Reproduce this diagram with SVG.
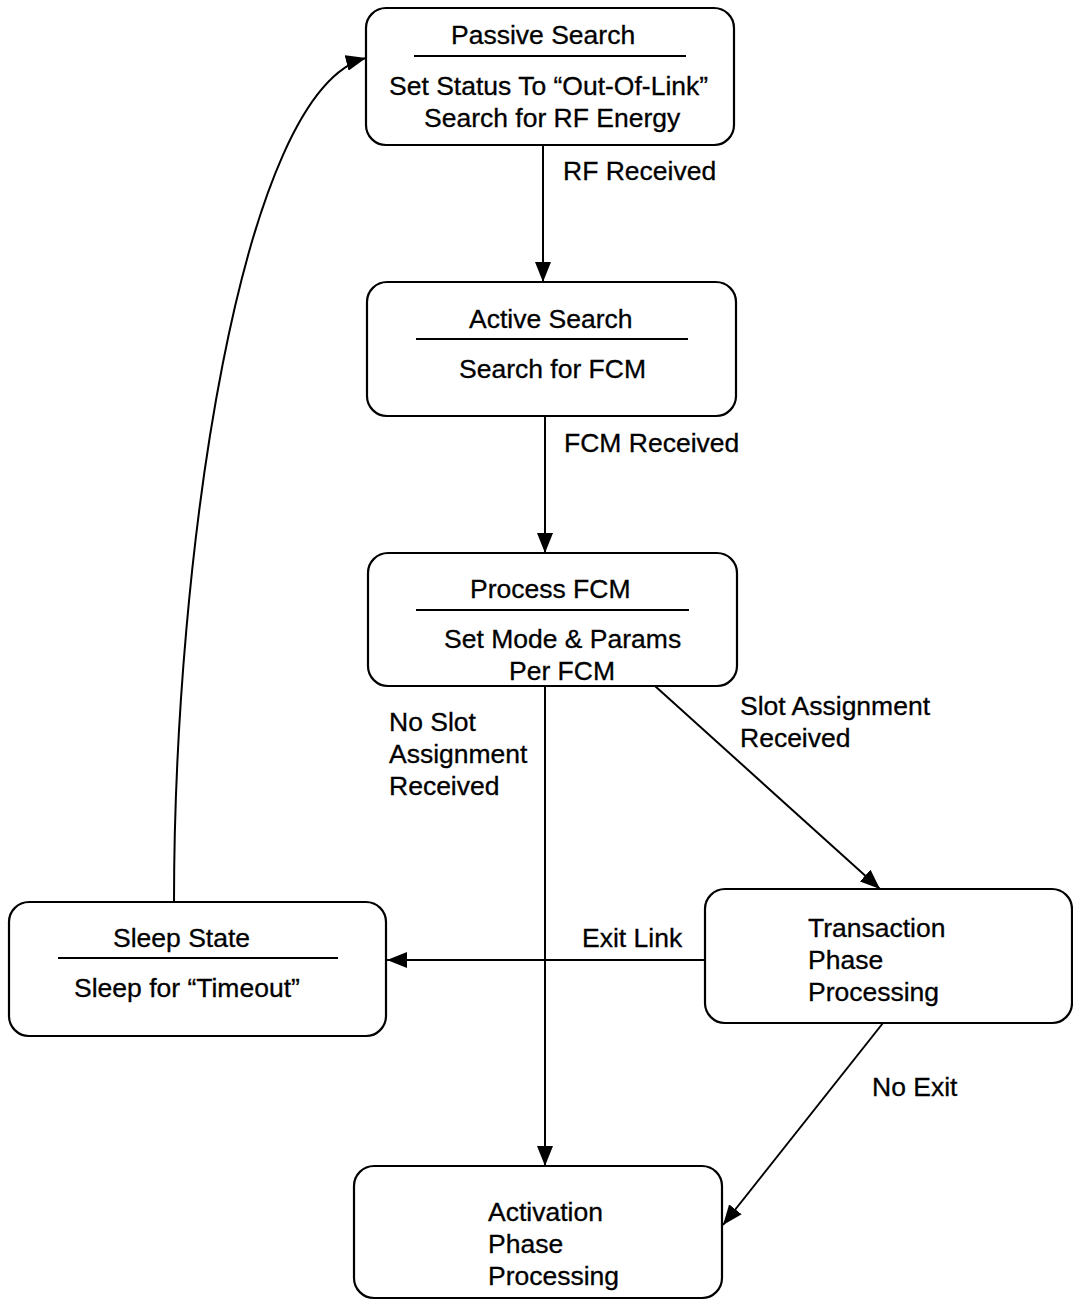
<svg xmlns="http://www.w3.org/2000/svg" width="1073" height="1300" viewBox="0 0 1073 1300">
<style>
text{font-family:"Liberation Sans",Arial,sans-serif;font-size:26.5px;fill:#000;stroke:#000;stroke-width:0.3}
.box{fill:#fff;stroke:#000;stroke-width:2.2}
.div{stroke:#000;stroke-width:2}
.edge{fill:none;stroke:#000;stroke-width:2}
</style>
<defs>
<marker id="ah" viewBox="0 0 20 16" refX="20" refY="8" markerWidth="20" markerHeight="16" markerUnits="userSpaceOnUse" orient="auto">
<path d="M0,0 L20,8 L0,16 Z" fill="#000"/>
</marker>
</defs>
<rect width="1073" height="1300" fill="#fff"/>
<g id="connectors">
<path class="edge" d="M543,145 L543,282" marker-end="url(#ah)"/>
<path class="edge" d="M545,416 L545,553" marker-end="url(#ah)"/>
<path class="edge" d="M545,686 L545,1166" marker-end="url(#ah)"/>
<path class="edge" d="M655,686 L880,889" marker-end="url(#ah)"/>
<path class="edge" d="M705,960 L387,960" marker-end="url(#ah)"/>
<path class="edge" d="M883,1023 L723,1225" marker-end="url(#ah)"/>
<path class="edge" d="M174,902 C174,560 240,90 366,58" marker-end="url(#ah)"/>
<text x="563" y="180">RF Received</text>
<text x="564" y="452">FCM Received</text>
<text x="389" y="731">No Slot</text>
<text x="389" y="763">Assignment</text>
<text x="389" y="795">Received</text>
<text x="740" y="715">Slot Assignment</text>
<text x="740" y="747">Received</text>
<text x="582" y="947">Exit Link</text>
<text x="872" y="1096">No Exit</text>
</g>
<g id="passive-search">
<rect class="box" x="366" y="8" width="368" height="137" rx="20"/>
<text x="451" y="44">Passive Search</text>
<line class="div" x1="414" y1="56" x2="686" y2="56"/>
<text x="389" y="95">Set Status To “Out-Of-Link”</text>
<text x="424" y="127">Search for RF Energy</text>
</g>
<g id="active-search">
<rect class="box" x="367" y="282" width="369" height="134" rx="20"/>
<text x="469" y="328">Active Search</text>
<line class="div" x1="416" y1="339" x2="688" y2="339"/>
<text x="459" y="378">Search for FCM</text>
</g>
<g id="process-fcm">
<rect class="box" x="368" y="553" width="369" height="133" rx="20"/>
<text x="470" y="598">Process FCM</text>
<line class="div" x1="416" y1="610" x2="689" y2="610"/>
<text x="444" y="648">Set Mode &amp; Params</text>
<text x="509" y="680">Per FCM</text>
</g>
<g id="transaction">
<rect class="box" x="705" y="889" width="367" height="134" rx="20"/>
<text x="808" y="937">Transaction</text>
<text x="808" y="969">Phase</text>
<text x="808" y="1001">Processing</text>
</g>
<g id="sleep-state">
<rect class="box" x="9" y="902" width="377" height="134" rx="20"/>
<text x="113" y="947">Sleep State</text>
<line class="div" x1="58" y1="958" x2="338" y2="958"/>
<text x="74" y="997">Sleep for “Timeout”</text>
</g>
<g id="activation">
<rect class="box" x="354" y="1166" width="368" height="132" rx="20"/>
<text x="488" y="1221">Activation</text>
<text x="488" y="1253">Phase</text>
<text x="488" y="1285">Processing</text>
</g>
</svg>
